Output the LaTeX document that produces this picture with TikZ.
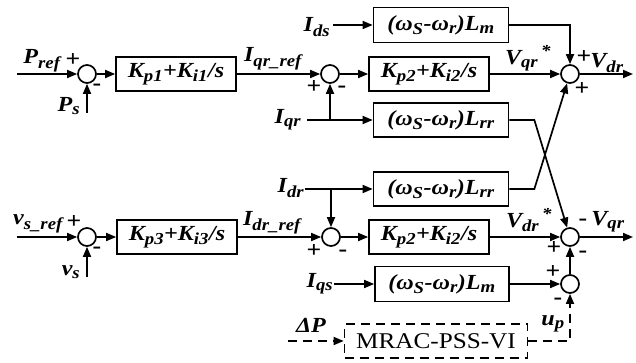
\documentclass[tikz,border=0pt]{standalone}
\usepackage{fontspec}
\setmainfont{Liberation Serif}[FakeStretch=1.12]
\renewcommand\defaultscriptratio{0.78}
\usetikzlibrary{arrows.meta, positioning, calc}

\begin{document}
\begin{tikzpicture}[
        x=1pt, y=-1pt,
        font=\fontsize{21.5}{23}\selectfont\bfseries\itshape,
        blk/.style={
            rectangle,
            draw,
            line width=1.7pt,
            inner sep=0pt,
            minimum height=34pt
        },
        sumpt/.style={
            circle,
            draw,
            line width=1.7pt,
            minimum size=18pt,
            inner sep=0pt
        },
        sig/.style={
            -{Triangle[length=10pt, width=8pt]},
            line width=1.7pt
        },
        dsig/.style={
            sig,
            dash pattern=on 9pt off 6pt
        },
        lbl/.style={inner sep=0pt},
        pm/.style={inner sep=0pt, font=\fontsize{23}{23}\selectfont\bfseries}
    ]
    \useasboundingbox (0,0) rectangle (636,363);

    % Blocks
    \node[blk, minimum width=120pt] (kpa) at (176,74) {K\textsubscript{p1}+K\textsubscript{i1}/s};
    \node[blk, minimum width=120pt] (kpb) at (429,74) {K\textsubscript{p2}+K\textsubscript{i2}/s};
    \node[blk, minimum width=135pt, minimum height=35pt] (lma) at (441,25) {(ω\textsubscript{S}-ω\textsubscript{r})L\textsubscript{m}};
    \node[blk, minimum width=135pt] (lrra) at (441,120) {(ω\textsubscript{S}-ω\textsubscript{r})L\textsubscript{rr}};
    \node[blk, minimum width=135pt] (lrrb) at (441,189) {(ω\textsubscript{S}-ω\textsubscript{r})L\textsubscript{rr}};
    \node[blk, minimum width=120pt] (kpd) at (177,237) {K\textsubscript{p3}+K\textsubscript{i3}/s};
    \node[blk, minimum width=120pt] (kpc) at (429,237) {K\textsubscript{p2}+K\textsubscript{i2}/s};
    \node[blk, minimum width=134pt, minimum height=35pt] (lmb) at (442,284) {(ω\textsubscript{S}-ω\textsubscript{r})L\textsubscript{m}};
    \node[blk, dash pattern=on 9pt off 6pt, minimum width=183pt, font=\fontsize{22.5}{24}\selectfont] (mrac) at (436,341) {MRAC-PSS-VI};

    % Summing points
    \node[sumpt] (sp) at (87,74) {};
    \node[sumpt] (sq) at (330,74) {};
    \node[sumpt] (sout1) at (570,74) {};
    \node[sumpt] (sv) at (87,237) {};
    \node[sumpt] (sd) at (331,237) {};
    \node[sumpt] (sout2) at (570,237) {};
    \node[sumpt] (sadd) at (570,284) {};

    % Free ends
    \coordinate (pin) at (17,74);
    \coordinate (psin) at (87,113);
    \coordinate (vin) at (17,237);
    \coordinate (vsin) at (87,277);
    \coordinate (idsin) at (333,25);
    \coordinate (iqrin) at (307,120);
    \coordinate (idrin) at (305,189);
    \coordinate (iqsin) at (334,284);
    \coordinate (dpin) at (288,341);
    \coordinate (bq) at (330,120);
    \coordinate (bd) at (331,189);
    \coordinate (vdrout) at (633,74);
    \coordinate (vqrout) at (633,237);

    % Connectors
    \draw[sig] (pin) -- (sp);
    \draw[sig] (psin) -- (sp);
    \draw[sig] (sp) -- (kpa);
    \draw[sig] (kpa) -- (sq);
    \draw[sig] (sq) -- (kpb);
    \draw[sig] (kpb) -- (sout1);
    \draw[sig] (sout1) -- (vdrout);
    \draw[sig] (idsin) -- (lma);
    \draw[sig] (lma.east) -| (sout1.north);
    \draw[sig] (iqrin) -- (lrra);
    \draw[sig] (bq) -- (sq);
    \draw[sig] (idrin) -- (lrrb);
    \draw[sig] (bd) -- (sd);
    \draw[sig] (lrra.east) -- ++(25,0) -- (sout2);
    \draw[sig] (lrrb.east) -- ++(25,0) -- (sout1);

    \draw[sig] (vin) -- (sv);
    \draw[sig] (vsin) -- (sv);
    \draw[sig] (sv) -- (kpd);
    \draw[sig] (kpd) -- (sd);
    \draw[sig] (sd) -- (kpc);
    \draw[sig] (kpc) -- (sout2);
    \draw[sig] (sout2) -- (vqrout);
    \draw[sig] (iqsin) -- (lmb);
    \draw[sig] (lmb) -- (sadd);
    \draw[sig] (sadd) -- (sout2);
    \draw[dsig] (dpin) -- (mrac);
    \draw[dsig] (mrac.east) -| (sadd.south);

    % Signal labels
    \node[lbl] (lpref) at (42,61) {P\textsubscript{ref}};
    \node[lbl] (lps) at (69,106) {P\textsubscript{s}};
    \node[lbl] (liqref) at (273,59) {I\textsubscript{qr\_ref}};
    \node[lbl] (lids) at (317,27) {I\textsubscript{ds}};
    \node[lbl] (liqr) at (288,120) {I\textsubscript{qr}};
    \node[lbl] (lvqs) at (528,58) {V\textsubscript{qr}\textsuperscript{\,*}};
    \node[lbl] (lvdr) at (607,63) {V\textsubscript{dr}};
    \node[lbl] (lidr) at (291,188) {I\textsubscript{dr}};
    \node[lbl] (lidref) at (272,223) {I\textsubscript{dr\_ref}};
    \node[lbl] (lvref) at (38,224) {v\textsubscript{s\_ref}};
    \node[lbl] (lvs) at (71,272) {v\textsubscript{s}};
    \node[lbl] (lvds) at (529,220) {V\textsubscript{dr}\textsuperscript{\,*}};
    \node[lbl] (lvqr) at (608,222) {V\textsubscript{qr}};
    \node[lbl] (liqs) at (320,284) {I\textsubscript{qs}};
    \node[lbl] (ldp) at (311,325) {ΔP};
    \node[lbl] (lup) at (553,324) {u\textsubscript{p}};

    % Signs
    \node[pm] (s1) at (73,60) {+};
    \node[pm] (s2) at (97,87) {-};
    \node[pm] (s3) at (314,87) {+};
    \node[pm] (s4) at (342,89) {-};
    \node[pm] (s5) at (584,57) {+};
    \node[pm] (s6) at (582,89) {+};
    \node[pm] (s7) at (74,222) {+};
    \node[pm] (s8) at (97,250) {-};
    \node[pm] (s9) at (314,251) {+};
    \node[pm] (s10) at (343,253) {-};
    \node[pm] (s11) at (583,222) {-};
    \node[pm] (s12) at (554,248) {+};
    \node[pm] (s13) at (583,254) {-};
    \node[pm] (s14) at (553,272) {+};
    \node[pm] (s15) at (558,301) {-};

\end{tikzpicture}
\end{document}
